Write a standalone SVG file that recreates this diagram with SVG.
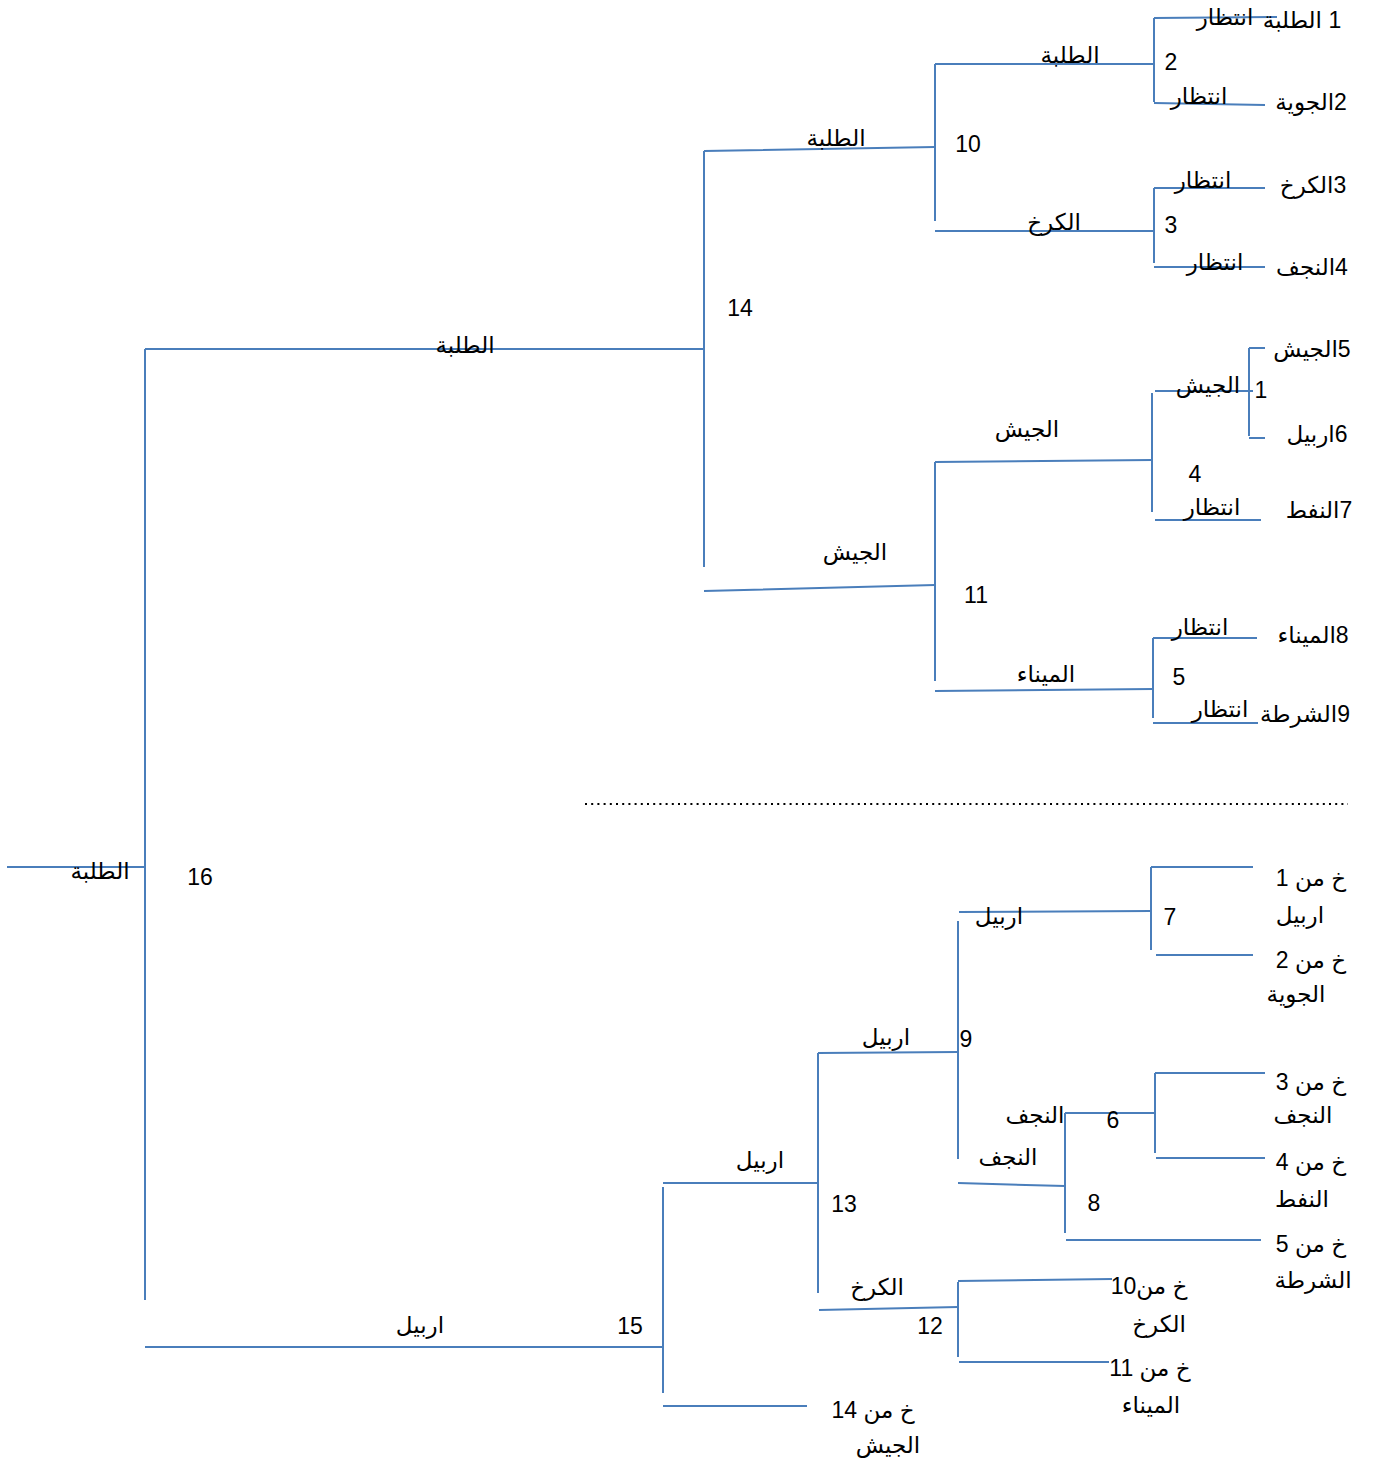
<svg xmlns="http://www.w3.org/2000/svg" width="1373" height="1462" viewBox="0 0 1373 1462">
<style>
.ln{fill:none;stroke:#4A7EBB;stroke-width:2}
.dot{fill:none;stroke:#000;stroke-width:2;stroke-dasharray:2 4.2}
text{font-family:"Liberation Sans","DejaVu Sans",sans-serif;font-size:23px;fill:#000;text-anchor:middle}
.r{direction:rtl}
</style>
<rect width="1373" height="1462" fill="#fff"/>
<g id="connectors">
<path class="ln" d="M7,867H145M145,349V1300M145,349H704M145,1347H663"/>
<path class="ln" d="M704,151V567M704,151L935,147M704,591L935,585"/>
<path class="ln" d="M935,64V221M935,64H1154M935,231H1154"/>
<path class="ln" d="M1154,18V102M1154,18L1277,17M1154,103L1265,105"/>
<path class="ln" d="M1154,188V263M1154,188H1265M1154,267H1265"/>
<path class="ln" d="M935,462V681M935,462L1152,460M935,691L1153,689"/>
<path class="ln" d="M1152,393V512M1155,391H1253M1155,520H1261"/>
<path class="ln" d="M1249,348V436M1249,348H1265M1249,438H1265"/>
<path class="ln" d="M1153,638V718M1153,638H1257M1153,723H1258"/>
<path class="dot" d="M585,804H1348"/>
<path class="ln" d="M663,1187V1393M663,1183H818M663,1406H807"/>
<path class="ln" d="M818,1053V1293M818,1053L958,1052M819,1310L958,1307"/>
<path class="ln" d="M958,921V1159M959,912L1151,911M958,1183L1065,1186"/>
<path class="ln" d="M1151,867V950M1151,867H1253M1156,955H1253"/>
<path class="ln" d="M1065,1113V1233M1065,1113H1155M1066,1240H1261"/>
<path class="ln" d="M1155,1073V1153M1155,1073H1265M1156,1158H1265"/>
<path class="ln" d="M958,1282V1357M958,1281L1112,1279M959,1362H1109"/>
</g>
<g id="edge-labels">
<text x="1070" y="63">الطلبة</text>
<text x="1054" y="230">الكرخ</text>
<text x="836" y="146">الطلبة</text>
<text x="465" y="353">الطلبة</text>
<text x="1027" y="437">الجيش</text>
<text x="855" y="560">الجيش</text>
<text x="1046" y="682">الميناء</text>
<text x="1208" y="393">الجيش</text>
<text x="1225" y="25">انتظار</text>
<text x="1199" y="104">انتظار</text>
<text x="1203" y="188">انتظار</text>
<text x="1215" y="270">انتظار</text>
<text x="1212" y="515">انتظار</text>
<text x="1200" y="635">انتظار</text>
<text x="1220" y="717">انتظار</text>
<text x="100" y="879">الطلبة</text>
<text x="420" y="1333">اربيل</text>
<text x="760" y="1168">اربيل</text>
<text x="886" y="1045">اربيل</text>
<text x="877" y="1295">الكرخ</text>
<text x="999" y="924">اربيل</text>
<text x="1035" y="1123">النجف</text>
<text x="1008" y="1165">النجف</text>
</g>
<g id="node-16"><text x="200" y="885">16</text></g>
<g id="node-14"><text x="740" y="316">14</text></g>
<g id="node-10"><text x="968" y="152">10</text></g>
<g id="node-11"><text x="976" y="603">11</text></g>
<g id="node-2"><text x="1171" y="70">2</text></g>
<g id="node-3"><text x="1171" y="233">3</text></g>
<g id="node-4"><text x="1195" y="482">4</text></g>
<g id="node-1"><text x="1261" y="398">1</text></g>
<g id="node-5"><text x="1179" y="685">5</text></g>
<g id="node-15"><text x="630" y="1334">15</text></g>
<g id="node-13"><text x="844" y="1212">13</text></g>
<g id="node-9"><text x="966" y="1047">9</text></g>
<g id="node-12"><text x="930" y="1334">12</text></g>
<g id="node-7"><text x="1170" y="925">7</text></g>
<g id="node-6"><text x="1113" y="1128">6</text></g>
<g id="node-8"><text x="1094" y="1211">8</text></g>
<g id="leaf-1"><text class="r" x="1302" y="28">1 الطلبة</text></g>
<g id="leaf-2"><text class="r" x="1311" y="110">2الجوية</text></g>
<g id="leaf-3"><text class="r" x="1313" y="193">3الكرخ</text></g>
<g id="leaf-4"><text class="r" x="1312" y="275">4النجف</text></g>
<g id="leaf-5"><text class="r" x="1312" y="357">5الجيش</text></g>
<g id="leaf-6"><text class="r" x="1317" y="442">6اربيل</text></g>
<g id="leaf-7"><text class="r" x="1319" y="518">7النفط</text></g>
<g id="leaf-8"><text class="r" x="1313" y="643">8الميناء</text></g>
<g id="leaf-9"><text class="r" x="1305" y="722">9الشرطة</text></g>
<g id="leaf-x1"><text class="r" x="1311" y="886">خ من 1</text><text x="1300" y="923">اربيل</text></g>
<g id="leaf-x2"><text class="r" x="1311" y="968">خ من 2</text><text x="1296" y="1002">الجوية</text></g>
<g id="leaf-x3"><text class="r" x="1311" y="1090">خ من 3</text><text x="1303" y="1123">النجف</text></g>
<g id="leaf-x4"><text class="r" x="1311" y="1170">خ من 4</text><text x="1302" y="1207">النفط</text></g>
<g id="leaf-x5"><text class="r" x="1311" y="1252">خ من 5</text><text x="1313" y="1288">الشرطة</text></g>
<g id="leaf-x10"><text class="r" x="1149" y="1294">خ من10</text><text x="1159" y="1332">الكرخ</text></g>
<g id="leaf-x11"><text class="r" x="1150" y="1376">خ من 11</text><text x="1151" y="1413">الميناء</text></g>
<g id="leaf-x14"><text class="r" x="873" y="1418">خ من 14</text><text x="888" y="1453">الجيش</text></g>
</svg>
